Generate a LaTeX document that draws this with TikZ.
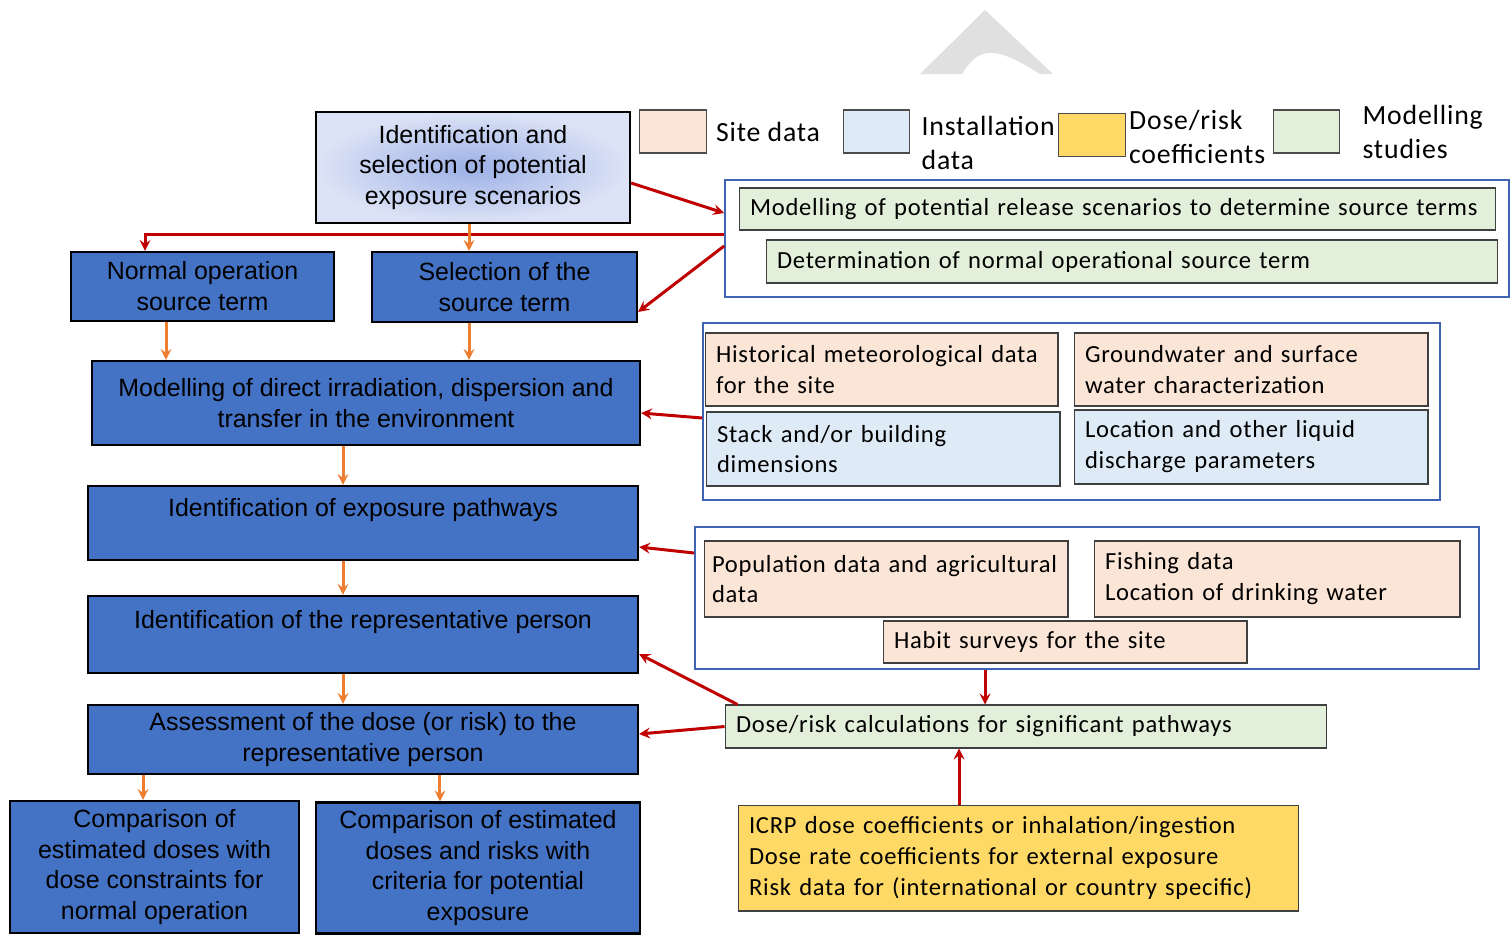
\documentclass[tikz,border=0pt]{standalone}
\usepackage{fontspec}
\setmainfont{Liberation Sans}
\newfontfamily\calfont{Carlito}[LetterSpace=3]
\usetikzlibrary{shapes.geometric, arrows, positioning}

\definecolor{stageblue}{HTML}{4472C4}
\definecolor{groupblue}{HTML}{3F64B4}
\definecolor{sitepeach}{HTML}{FBE5D6}
\definecolor{instblue}{HTML}{DEEBF7}
\definecolor{dosegold}{HTML}{FFD966}
\definecolor{modelgreen}{HTML}{E2EFDA}
\definecolor{arrowred}{HTML}{C00000}
\definecolor{arroworange}{HTML}{ED7D31}
\definecolor{scencore}{HTML}{9CB0E6}
\definecolor{scenedge}{HTML}{DDE3F6}
\definecolor{logogray}{HTML}{E0E0E0}

\begin{document}
\begin{tikzpicture}[x=0.02cm, y=-0.02cm]
		\tikzstyle{Stage} = [rectangle, draw=black, line width=1.3pt, fill=stageblue, text=black, align=center, inner sep=0pt, font=\fontsize{14.2}{17.6}\selectfont]
		\tikzstyle{Data} = [rectangle, draw=black!75, line width=0.6pt, align=left, inner xsep=0.22cm, inner ysep=0pt, font=\calfont\fontsize{14}{17.6}\selectfont]
		\tikzstyle{Group} = [rectangle, draw=groupblue, line width=1.1pt, inner sep=0pt]
		\tikzstyle{Swatch} = [rectangle, draw=black!70, line width=0.6pt, minimum width=1.33cm, minimum height=0.86cm]
		\tikzstyle{Legend} = [anchor=west, align=left, inner sep=0pt, font=\calfont\fontsize{15.8}{19.4}\selectfont]
		\tikzstyle{redarrow} = [line width=1.7pt, draw=arrowred, ->, >=stealth]
		\tikzstyle{orangearrow} = [line width=1.7pt, draw=arroworange, ->, >=stealth]
		
		\useasboundingbox (0,0) rectangle (1510,934);
		
		% logo mark at the top
		\fill [logogray] (920,74) -- (985,10) -- (1053,74) -- (1040,74) .. controls (1015,58) and (1000,52) .. (988,53) .. controls (976,54) and (968,64) .. (962,74) -- cycle;
		
		% legend
		\node (sw1) [Swatch, fill=sitepeach] at (673,131.5) {};
		\node (sw2) [Swatch, fill=instblue] at (876.5,131.5) {};
		\node (sw3) [Swatch, fill=dosegold] at (1092,135) {};
		\node (sw4) [Swatch, fill=modelgreen] at (1306.5,131.5) {};
		\node (sitetxt) [Legend, right=0.18cm of sw1] {Site data};
		\node (insttxt) [Legend, right=0.22cm of sw2, yshift=-0.23cm] {Installation\\data};
		\node (dosetxt) [Legend, right=0.06cm of sw3, yshift=-0.04cm] {Dose/risk\\coefficients};
		\node (modeltxt) [Legend, right=0.44cm of sw4] {Modelling\\studies};
		
		% main chain
		\node (scen) [Stage, minimum width=6.28cm, minimum height=2.22cm, inner color=scencore, outer color=scenedge] at (473,167.5) {Identification and\\selection of potential\\exposure scenarios};
		\node (normal) [Stage, minimum width=5.26cm, minimum height=1.38cm] at (202.5,286.5) {Normal operation\\source term};
		\node (select) [Stage, minimum width=5.30cm, minimum height=1.40cm] at (504.5,287) {Selection of the\\source term};
		\node (irrad) [Stage, minimum width=10.96cm, minimum height=1.68cm] at (366,403) {Modelling of direct irradiation, dispersion and\\transfer in the environment};
		\node (pathways) [Stage, minimum width=11.0cm, minimum height=1.48cm] at (363,523) {Identification of exposure pathways\\\mbox{}};
		\node (person) [Stage, minimum width=11.0cm, minimum height=1.54cm] at (363,634.5) {Identification of the representative person\\\mbox{}};
		\node (assess) [Stage, minimum width=11.0cm, minimum height=1.38cm] at (363,739.5) {Assessment of the dose (or risk) to the\\representative person};
		\node (comp1) [Stage, minimum width=5.78cm, minimum height=2.64cm] at (154.5,867) {Comparison of\\estimated doses with\\dose constraints for\\normal operation};
		\node (comp2) [Stage, minimum width=6.48cm, minimum height=2.62cm] at (478,868) {Comparison of estimated\\doses and risks with\\criteria for potential\\exposure};
		
		% source term studies
		\node (srcgroup) [Group, minimum width=15.68cm, minimum height=2.34cm] at (1117,238.5) {};
		\node (release) [Data, fill=modelgreen, text width=14.70cm, minimum height=0.84cm] at (1117.5,209) {Modelling of potential release scenarios to determine source terms};
		\node (normsrc) [Data, fill=modelgreen, text width=14.20cm, minimum height=0.86cm] at (1132,261.5) {Determination of normal operational source term};
		
		% site and installation data
		\node (sitegroup) [Group, minimum width=14.74cm, minimum height=3.54cm] at (1071.5,411.5) {};
		\node (meteo) [Data, fill=sitepeach, text width=6.62cm, minimum height=1.46cm] at (881.5,369.5) {Historical meteorological data\\for the site};
		\node (ground) [Data, fill=sitepeach, text width=6.64cm, minimum height=1.46cm] at (1251,369.5) {Groundwater and surface\\water characterization};
		\node (stack) [Data, fill=instblue, text width=6.64cm, minimum height=1.48cm] at (883,449) {Stack and/or building\\dimensions};
		\node (liquid) [Data, fill=instblue, text width=6.64cm, minimum height=1.48cm] at (1251,447) {Location and other liquid\\discharge parameters};
		
		% population and habit data
		\node (popgroup) [Group, minimum width=15.68cm, minimum height=2.84cm] at (1087,598) {};
		\node (popdata) [Data, fill=sitepeach, inner xsep=0.16cm, text width=6.96cm, minimum height=1.52cm] at (886,579) {Population data and agricultural\\data};
		\node (fishing) [Data, fill=sitepeach, text width=6.88cm, minimum height=1.52cm] at (1277,579) {Fishing data\\Location of drinking water};
		\node (habit) [Data, fill=sitepeach, text width=6.84cm, minimum height=0.84cm] at (1065,642) {Habit surveys for the site};
		
		% dose calculation
		\node (calc) [Data, fill=modelgreen, text width=11.60cm, minimum height=0.86cm] at (1026,726.5) {Dose/risk calculations for significant pathways};
		\node (icrp) [Data, fill=dosegold, text width=10.78cm, minimum height=2.12cm] at (1018.5,858) {ICRP dose coefficients or inhalation/ingestion\\Dose rate coefficients for external exposure\\Risk data for (international or country specific)};
		
		% connectors
		\draw [redarrow] ([yshift=0.09cm]srcgroup.west) -| ([xshift=-1.15cm]normal.north);
		\draw [orangearrow] ([xshift=-0.08cm]scen.south) -- ([xshift=-0.08cm]scen.south |- select.north);
		\draw [redarrow] ([yshift=-0.31cm]scen.east) -- ([yshift=0.51cm]srcgroup.west);
		\draw [redarrow] ([yshift=-0.15cm]srcgroup.west) -- ([yshift=-0.5cm]select.east);
		\draw [orangearrow] ([xshift=-0.73cm]normal.south) -- ([xshift=-0.73cm]normal.south |- irrad.north);
		\draw [orangearrow] ([xshift=-0.71cm]select.south) -- ([xshift=-0.71cm]select.south |- irrad.north);
		\draw [redarrow] ([yshift=-0.13cm]sitegroup.west) -- ([yshift=-0.2cm]irrad.east);
		\draw [orangearrow] ([xshift=-0.46cm]irrad.south) -- ([xshift=-0.46cm]irrad.south |- pathways.north);
		\draw [redarrow] ([yshift=0.9cm]popgroup.west) -- ([yshift=-0.48cm]pathways.east);
		\draw [orangearrow] ([xshift=-0.4cm]pathways.south) -- ([xshift=-0.4cm]pathways.south |- person.north);
		\draw [redarrow] ([xshift=0.26cm]calc.north west) -- ([yshift=-0.39cm]person.east);
		\draw [orangearrow] ([xshift=-0.4cm]person.south) -- ([xshift=-0.4cm]person.south |- assess.north);
		\draw [redarrow] (calc.west) -- ([yshift=0.11cm]assess.east);
		\draw [orangearrow] ([xshift=-4.4cm]assess.south) -- ([xshift=-4.4cm]assess.south |- comp1.north);
		\draw [orangearrow] ([xshift=1.54cm]assess.south) -- ([xshift=1.54cm]assess.south |- comp2.north);
		\draw [redarrow] ([xshift=-2.04cm]popgroup.south) -- ([xshift=-2.04cm]popgroup.south |- calc.north);
		\draw [redarrow] ([xshift=-1.19cm]icrp.north) -- ([xshift=-1.19cm]icrp.north |- calc.south);
		\end{tikzpicture}
\end{document}
